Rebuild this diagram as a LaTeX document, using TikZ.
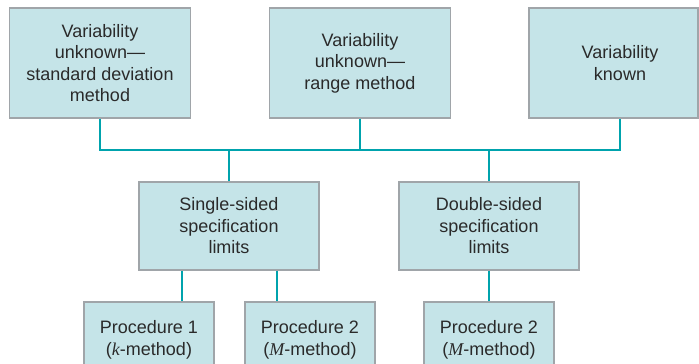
\documentclass[tikz,border=0pt]{standalone}
\usepackage{fontspec}
\setmainfont{Liberation Sans}
\newfontfamily\mathital{Liberation Serif}
\usetikzlibrary{positioning}
\definecolor{boxfill}{HTML}{C5E4E8}
\definecolor{boxline}{HTML}{A0A5A9}
\definecolor{teal}{HTML}{00A3AD}
\definecolor{ink}{HTML}{2A2A2A}
\newcommand{\vname}[1]{{\mathital\itshape #1}}
\begin{document}
\begin{tikzpicture}[
  x=1pt, y=-1pt,
  font=\fontsize{18}{21.5}\selectfont, text=ink,
  box/.style={draw=boxline, line width=1.2pt, fill=boxfill, align=center, inner sep=2pt},
  top/.style={box, minimum width=181pt, minimum height=110pt},
  mid/.style={box, minimum width=180pt, minimum height=88pt},
  low/.style={box, minimum width=130pt, minimum height=76pt},
  link/.style={draw=teal, line width=2.2pt}]
\useasboundingbox (0,0) rectangle (699,364);
\clip (0,0) rectangle (699,364);
% ---- variability
\node[top] (varsd) at (100,63) {Variability\\unknown---\\standard deviation\\method};
\node[top] (varrg) at (360,63) {Variability\\unknown---\\range method};
\node[top, minimum width=169pt] (varkn) at (613.5,63) {\hspace*{13pt}Variability\\\hspace*{13pt}known};
\coordinate (bus) at (360,150);
\draw[link] (varsd.south) |- (bus) -| ([xshift=6.5]varkn.south);
\draw[link] (varrg.south) -- (bus);
% ---- specification limits
\node[mid] (single) at (229,226) {Single-sided\\specification\\limits};
\node[mid] (double) at (489,226) {Double-sided\\specification\\limits};
\draw[link] (bus -| single.north) -- (single.north);
\draw[link] (bus -| double.north) -- (double.north);
% ---- procedures
\node[low] (kmeth) at (149,340) {Procedure 1\\(\vname{k}-method)};
\node[low] (mmeth) at (310,340) {Procedure 2\\(\vname{M}-method)};
\node[low] (mmethd) at (489,340) {Procedure 2\\(\vname{M}-method)};
\draw[link] ([xshift=-47]single.south) -- ([xshift=-47]single.south |- kmeth.north);
\draw[link] ([xshift=48]single.south) -- ([xshift=48]single.south |- mmeth.north);
\draw[link] (double.south) -- (mmethd.north);
\end{tikzpicture}
\end{document}
